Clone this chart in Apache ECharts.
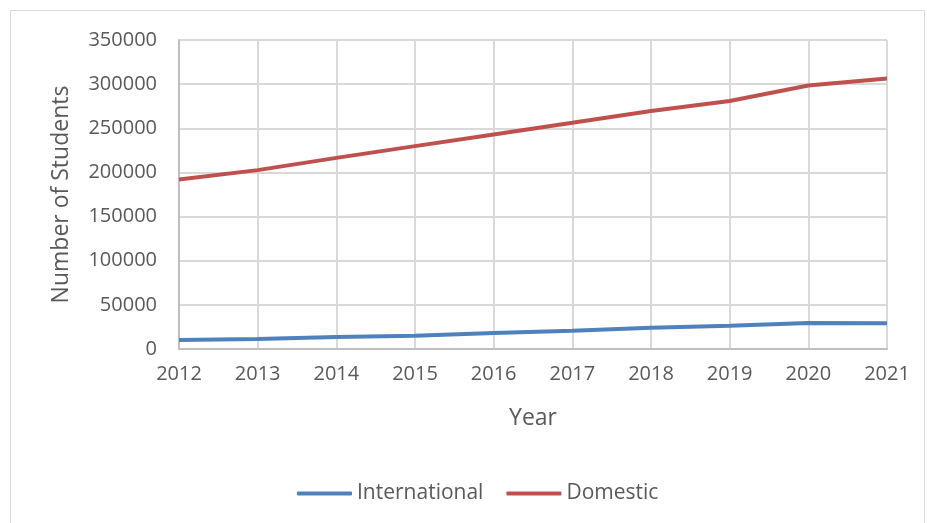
<!DOCTYPE html>
<html><head><meta charset="utf-8">
<script src="https://cdn.jsdelivr.net/npm/echarts@6/dist/echarts.min.js"></script>
<style>html,body{margin:0;padding:0;background:#fff}#c{width:927px;height:523px}</style>
</head><body><div id="c"></div>
<script>
const years = ['2012','2013','2014','2015','2016','2017','2018','2019','2020','2021'];
const international = [10200, 11300, 13600, 15100, 18100, 20700, 24100, 26400, 29400, 29200];
const domestic = [192000, 202600, 216500, 229800, 243000, 256200, 269500, 281000, 298500, 306400];
const font = '"Open Sans", "Noto Sans", sans-serif';
const chart = echarts.init(document.getElementById('c'));
chart.setOption({
  animation: false,
  graphic: [{type:'rect', shape:{x:10.5,y:10.5,width:914,height:530}, style:{fill:'none', stroke:'#d9d9d9', lineWidth:1}}],
  grid: {left:179, right:40, top:40, bottom:174},
  legend: {
    top: 478, left: 292, itemWidth: 55, itemHeight: 4, itemGap: 23,
    icon: 'roundRect',
    textStyle: {fontFamily: font, fontSize: 21, color: '#595959'},
    data: ['International', 'Domestic']
  },
  xAxis: {
    type: 'category', data: years, boundaryGap: false,
    name: 'Year', nameLocation: 'middle', nameGap: 58,
    nameTextStyle: {fontFamily: font, fontSize: 23, color: '#595959'},
    axisLine: {lineStyle: {color: '#bfbfbf', width: 2}},
    axisTick: {show: false},
    axisLabel: {fontFamily: font, fontSize: 20, color: '#595959', margin: 15},
    splitLine: {show: true, lineStyle: {color: '#d9d9d9', width: 2}}
  },
  yAxis: {
    type: 'value', min: 0, max: 350000, interval: 50000,
    name: 'Number of Students', nameLocation: 'middle', nameGap: 106,
    nameTextStyle: {fontFamily: font, fontSize: 23, color: '#595959'},
    axisLine: {show: true, lineStyle: {color: '#bfbfbf', width: 2}},
    axisTick: {show: false},
    axisLabel: {fontFamily: font, fontSize: 20, color: '#595959', margin: 22, formatter: v => String(v)},
    splitLine: {lineStyle: {color: '#d9d9d9', width: 2}}
  },
  series: [
    {name:'International', type:'line', data: international, showSymbol:false, symbol:'none',
     lineStyle:{color:'#4f81bd', width:4}, itemStyle:{color:'#4f81bd'}},
    {name:'Domestic', type:'line', data: domestic, showSymbol:false, symbol:'none',
     lineStyle:{color:'#c0504d', width:4}, itemStyle:{color:'#c0504d'}}
  ]
});
</script></body></html>
